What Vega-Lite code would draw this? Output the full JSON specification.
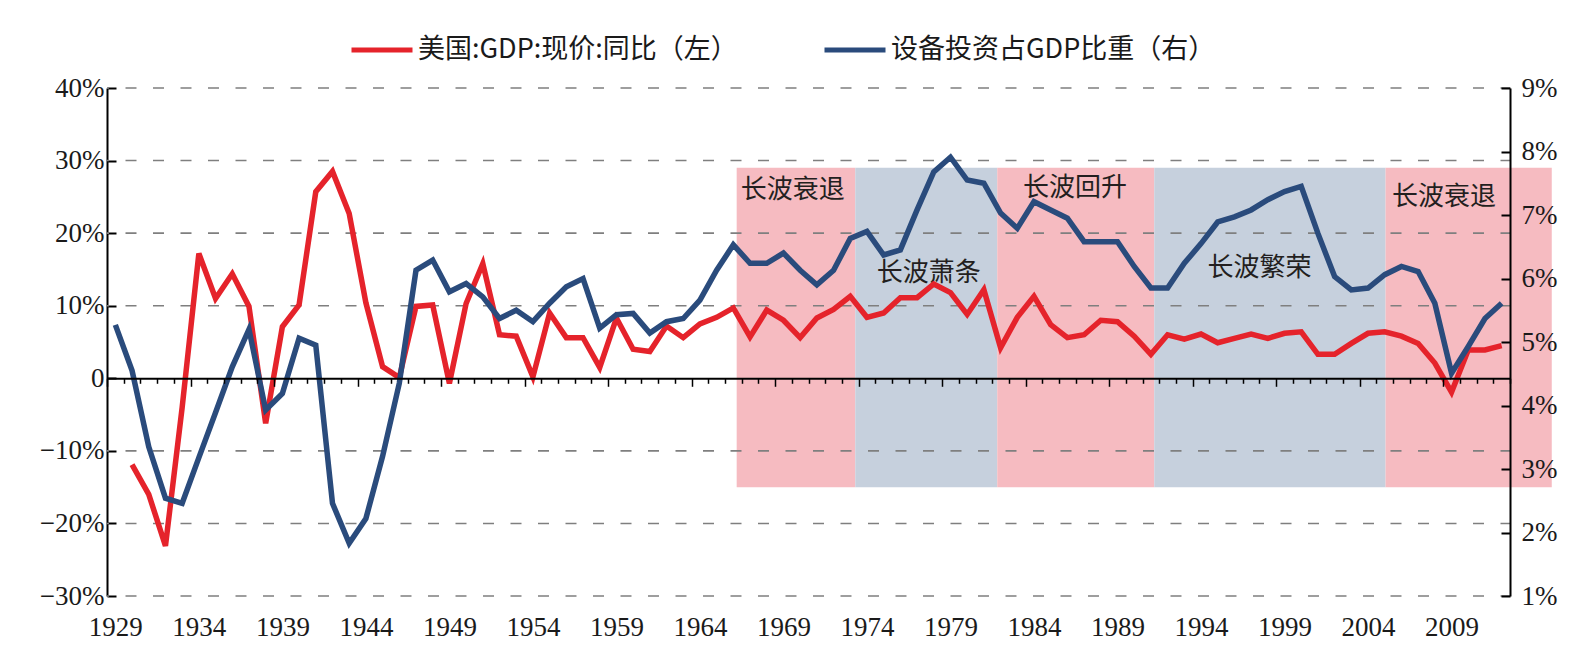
{
  "$schema": "https://vega.github.io/schema/vega-lite/v6.json",
  "width": 1403,
  "height": 508,
  "autosize": "none",
  "padding": {"left": 107, "top": 88, "right": 76, "bottom": 62},
  "background": "white",
  "config": {
    "view": {"stroke": null},
    "axis": {
      "grid": false,
      "labelFont": "Liberation Serif",
      "labelFontSize": 27,
      "labelColor": "#1a1a1a",
      "domainColor": "#000000",
      "tickColor": "#000000"
    }
  },
  "datasets": {
    "series": [
      {"year": 1929, "gdp": null, "equip": 5.27},
      {"year": 1930, "gdp": -11.9, "equip": 4.55},
      {"year": 1931, "gdp": -16.0, "equip": 3.35},
      {"year": 1932, "gdp": -23.1, "equip": 2.54},
      {"year": 1933, "gdp": -4.0, "equip": 2.46},
      {"year": 1934, "gdp": 17.2, "equip": 3.18},
      {"year": 1935, "gdp": 11.0, "equip": 3.89},
      {"year": 1936, "gdp": 14.4, "equip": 4.61},
      {"year": 1937, "gdp": 9.9, "equip": 5.2},
      {"year": 1938, "gdp": -6.2, "equip": 3.93},
      {"year": 1939, "gdp": 7.1, "equip": 4.19},
      {"year": 1940, "gdp": 10.1, "equip": 5.06},
      {"year": 1941, "gdp": 25.7, "equip": 4.95},
      {"year": 1942, "gdp": 28.5, "equip": 2.46},
      {"year": 1943, "gdp": 22.7, "equip": 1.83},
      {"year": 1944, "gdp": 10.4, "equip": 2.22},
      {"year": 1945, "gdp": 1.6, "equip": 3.2},
      {"year": 1946, "gdp": 0.1, "equip": 4.35},
      {"year": 1947, "gdp": 9.9, "equip": 6.13},
      {"year": 1948, "gdp": 10.1, "equip": 6.29},
      {"year": 1949, "gdp": -0.7, "equip": 5.79},
      {"year": 1950, "gdp": 10.3, "equip": 5.92},
      {"year": 1951, "gdp": 15.8, "equip": 5.71},
      {"year": 1952, "gdp": 6.0, "equip": 5.37},
      {"year": 1953, "gdp": 5.8, "equip": 5.5},
      {"year": 1954, "gdp": 0.2, "equip": 5.32},
      {"year": 1955, "gdp": 9.0, "equip": 5.61},
      {"year": 1956, "gdp": 5.6, "equip": 5.87},
      {"year": 1957, "gdp": 5.6, "equip": 6.0},
      {"year": 1958, "gdp": 1.5, "equip": 5.22},
      {"year": 1959, "gdp": 8.3, "equip": 5.43},
      {"year": 1960, "gdp": 4.0, "equip": 5.45},
      {"year": 1961, "gdp": 3.7, "equip": 5.14},
      {"year": 1962, "gdp": 7.2, "equip": 5.32},
      {"year": 1963, "gdp": 5.6, "equip": 5.37},
      {"year": 1964, "gdp": 7.5, "equip": 5.66},
      {"year": 1965, "gdp": 8.4, "equip": 6.13},
      {"year": 1966, "gdp": 9.7, "equip": 6.53},
      {"year": 1967, "gdp": 5.7, "equip": 6.24},
      {"year": 1968, "gdp": 9.4, "equip": 6.24},
      {"year": 1969, "gdp": 8.0, "equip": 6.4},
      {"year": 1970, "gdp": 5.6, "equip": 6.13},
      {"year": 1971, "gdp": 8.3, "equip": 5.9},
      {"year": 1972, "gdp": 9.5, "equip": 6.13},
      {"year": 1973, "gdp": 11.3, "equip": 6.63},
      {"year": 1974, "gdp": 8.4, "equip": 6.74},
      {"year": 1975, "gdp": 9.0, "equip": 6.37},
      {"year": 1976, "gdp": 11.1, "equip": 6.45},
      {"year": 1977, "gdp": 11.1, "equip": 7.08},
      {"year": 1978, "gdp": 13.0, "equip": 7.68},
      {"year": 1979, "gdp": 11.8, "equip": 7.91},
      {"year": 1980, "gdp": 8.8, "equip": 7.55},
      {"year": 1981, "gdp": 12.2, "equip": 7.5},
      {"year": 1982, "gdp": 4.2, "equip": 7.03},
      {"year": 1983, "gdp": 8.4, "equip": 6.79},
      {"year": 1984, "gdp": 11.3, "equip": 7.21},
      {"year": 1985, "gdp": 7.4, "equip": 7.08},
      {"year": 1986, "gdp": 5.6, "equip": 6.95},
      {"year": 1987, "gdp": 6.0, "equip": 6.58},
      {"year": 1988, "gdp": 8.0, "equip": 6.58},
      {"year": 1989, "gdp": 7.8, "equip": 6.58},
      {"year": 1990, "gdp": 5.8, "equip": 6.19},
      {"year": 1991, "gdp": 3.3, "equip": 5.85},
      {"year": 1992, "gdp": 6.0, "equip": 5.85},
      {"year": 1993, "gdp": 5.4, "equip": 6.24},
      {"year": 1994, "gdp": 6.1, "equip": 6.55},
      {"year": 1995, "gdp": 4.9, "equip": 6.89},
      {"year": 1996, "gdp": 5.5, "equip": 6.97},
      {"year": 1997, "gdp": 6.1, "equip": 7.08},
      {"year": 1998, "gdp": 5.5, "equip": 7.24},
      {"year": 1999, "gdp": 6.2, "equip": 7.37},
      {"year": 2000, "gdp": 6.4, "equip": 7.45},
      {"year": 2001, "gdp": 3.3, "equip": 6.71},
      {"year": 2002, "gdp": 3.3, "equip": 6.03},
      {"year": 2003, "gdp": 4.8, "equip": 5.82},
      {"year": 2004, "gdp": 6.2, "equip": 5.85},
      {"year": 2005, "gdp": 6.4, "equip": 6.06},
      {"year": 2006, "gdp": 5.8, "equip": 6.19},
      {"year": 2007, "gdp": 4.8, "equip": 6.11},
      {"year": 2008, "gdp": 2.1, "equip": 5.61},
      {"year": 2009, "gdp": -1.9, "equip": 4.51},
      {"year": 2010, "gdp": 3.9, "equip": 4.93},
      {"year": 2011, "gdp": 3.9, "equip": 5.37},
      {"year": 2012, "gdp": 4.5, "equip": 5.61}
    ],
    "phases": [
      {"phase": "长波衰退", "start": 1966.2, "end": 1973.3},
      {"phase": "长波萧条", "start": 1973.3, "end": 1981.8},
      {"phase": "长波回升", "start": 1981.8, "end": 1991.2},
      {"phase": "长波繁荣", "start": 1991.2, "end": 2005.05},
      {"phase": "长波衰退", "start": 2005.05, "end": 2015.0}
    ],
    "phaseLabels": [
      {"phase": "长波衰退", "x": 1969.55, "y": 26.0},
      {"phase": "长波萧条", "x": 1977.7, "y": 14.5},
      {"phase": "长波回升", "x": 1986.45, "y": 26.2},
      {"phase": "长波繁荣", "x": 1997.5, "y": 15.2},
      {"phase": "长波衰退", "x": 2008.55, "y": 25.0}
    ],
    "gridLevels": [
      {"level": -30}, {"level": -20}, {"level": -10},
      {"level": 10}, {"level": 20}, {"level": 30}, {"level": 40}
    ]
  },
  "layer": [
    {
      "layer": [
        {
          "data": {"name": "phases"},
          "mark": {"type": "rect"},
          "encoding": {
            "x": {
              "field": "start",
              "type": "quantitative",
              "title": null,
              "scale": {"domain": [1928.5, 2012.5], "nice": false, "zero": false},
              "axis": {
                "orient": "bottom",
                "values": [1929, 1934, 1939, 1944, 1949, 1954, 1959, 1964, 1969, 1974, 1979, 1984, 1989, 1994, 1999, 2004, 2009],
                "format": "d",
                "ticks": false,
                "domain": false,
                "labelPadding": 18,
                "labelFlush": false,
                "labelOverlap": false
              }
            },
            "x2": {"field": "end"},
            "y": {
              "datum": -15,
              "type": "quantitative",
              "title": null,
              "scale": {"domain": [-30, 40], "nice": false, "zero": false},
              "axis": {
                "orient": "left",
                "values": [-30, -20, -10, 0, 10, 20, 30, 40],
                "labelExpr": "datum.value == 0 ? '0' : (datum.value < 0 ? '−' + abs(datum.value) + '%' : datum.value + '%')",
                "tickSize": -9,
                "tickWidth": 2,
                "domainWidth": 2,
                "labelPadding": 12,
                "labelFlush": false,
                "labelOverlap": false
              }
            },
            "y2": {"datum": 29},
            "fill": {
              "field": "phase",
              "type": "nominal",
              "scale": {
                "domain": ["长波衰退", "长波萧条", "长波回升", "长波繁荣"],
                "range": ["#F6BBC1", "#C6D0DD", "#F6BBC1", "#C6D0DD"]
              },
              "legend": null
            }
          }
        },
        {
          "data": {"name": "gridLevels"},
          "mark": {"type": "rule", "color": "#7f7f7f", "strokeWidth": 1.6, "strokeDash": [11, 16.5], "strokeDashOffset": 1.5},
          "encoding": {
            "y": {"field": "level", "type": "quantitative", "title": null}
          }
        },
        {
          "data": {"name": "phaseLabels"},
          "mark": {"type": "text", "font": "Noto Sans CJK SC", "fontSize": 26, "color": "#231f20", "align": "center", "baseline": "middle"},
          "encoding": {
            "x": {"field": "x", "type": "quantitative", "title": null},
            "y": {"field": "y", "type": "quantitative", "title": null},
            "text": {"field": "phase"}
          }
        },
        {
          "data": {"name": "series"},
          "mark": {"type": "line", "strokeWidth": 5.5},
          "encoding": {
            "x": {"field": "year", "type": "quantitative", "title": null},
            "y": {"field": "gdp", "type": "quantitative", "title": null},
            "color": {
              "datum": "美国:GDP:现价:同比（左）",
              "type": "nominal",
              "scale": {
                "domain": ["美国:GDP:现价:同比（左）", "设备投资占GDP比重（右）"],
                "range": ["#E5232B", "#2A4B7C"]
              },
              "legend": {
                "title": null,
                "orient": "none",
                "legendX": 242,
                "legendY": -71,
                "direction": "horizontal",
                "symbolType": "stroke",
                "symbolSize": 3721,
                "symbolStrokeWidth": 5,
                "labelFont": "Noto Sans CJK SC",
                "labelFontSize": 27,
                "labelColor": "#1a1a1a",
                "labelOffset": 3,
                "labelLimit": 600,
                "columnPadding": 76,
                "padding": 0
              }
            }
          }
        }
      ]
    },
    {
      "data": {"name": "series"},
      "mark": {"type": "line", "strokeWidth": 5.5},
      "encoding": {
        "x": {
          "field": "year",
          "type": "quantitative",
          "title": null,
          "scale": {"domain": [1928.5, 2012.5], "nice": false, "zero": false},
          "axis": {
            "orient": "bottom",
            "offset": -217.71,
            "values": [1928.5, 1929.5, 1930.5, 1931.5, 1932.5, 1933.5, 1934.5, 1935.5, 1936.5, 1937.5, 1938.5, 1939.5, 1940.5, 1941.5, 1942.5, 1943.5, 1944.5, 1945.5, 1946.5, 1947.5, 1948.5, 1949.5, 1950.5, 1951.5, 1952.5, 1953.5, 1954.5, 1955.5, 1956.5, 1957.5, 1958.5, 1959.5, 1960.5, 1961.5, 1962.5, 1963.5, 1964.5, 1965.5, 1966.5, 1967.5, 1968.5, 1969.5, 1970.5, 1971.5, 1972.5, 1973.5, 1974.5, 1975.5, 1976.5, 1977.5, 1978.5, 1979.5, 1980.5, 1981.5, 1982.5, 1983.5, 1984.5, 1985.5, 1986.5, 1987.5, 1988.5, 1989.5, 1990.5, 1991.5, 1992.5, 1993.5, 1994.5, 1995.5, 1996.5, 1997.5, 1998.5, 1999.5, 2000.5, 2001.5, 2002.5, 2003.5, 2004.5, 2005.5, 2006.5, 2007.5, 2008.5, 2009.5, 2010.5, 2011.5, 2012.5],
            "labels": false,
            "ticks": true,
            "tickSize": {"condition": {"test": "(datum.value - 1928.5) % 5 == 0", "value": 8}, "value": 5},
            "tickWidth": 1.5,
            "domain": true,
            "domainWidth": 2,
            "zindex": 2
          }
        },
        "y": {
          "field": "equip",
          "type": "quantitative",
          "title": null,
          "scale": {"domain": [1, 9], "nice": false, "zero": false},
          "axis": {
            "orient": "right",
            "values": [1, 2, 3, 4, 5, 6, 7, 8, 9],
            "labelExpr": "datum.value + '%'",
            "tickSize": -9,
            "tickWidth": 2,
            "domainWidth": 2,
            "labelPadding": 20,
            "labelFlush": false,
            "labelOverlap": false,
            "zindex": 2
          }
        },
        "color": {"datum": "设备投资占GDP比重（右）", "type": "nominal"}
      }
    }
  ],
  "resolve": {"scale": {"y": "independent"}, "axis": {"x": "independent", "y": "independent"}}
}
